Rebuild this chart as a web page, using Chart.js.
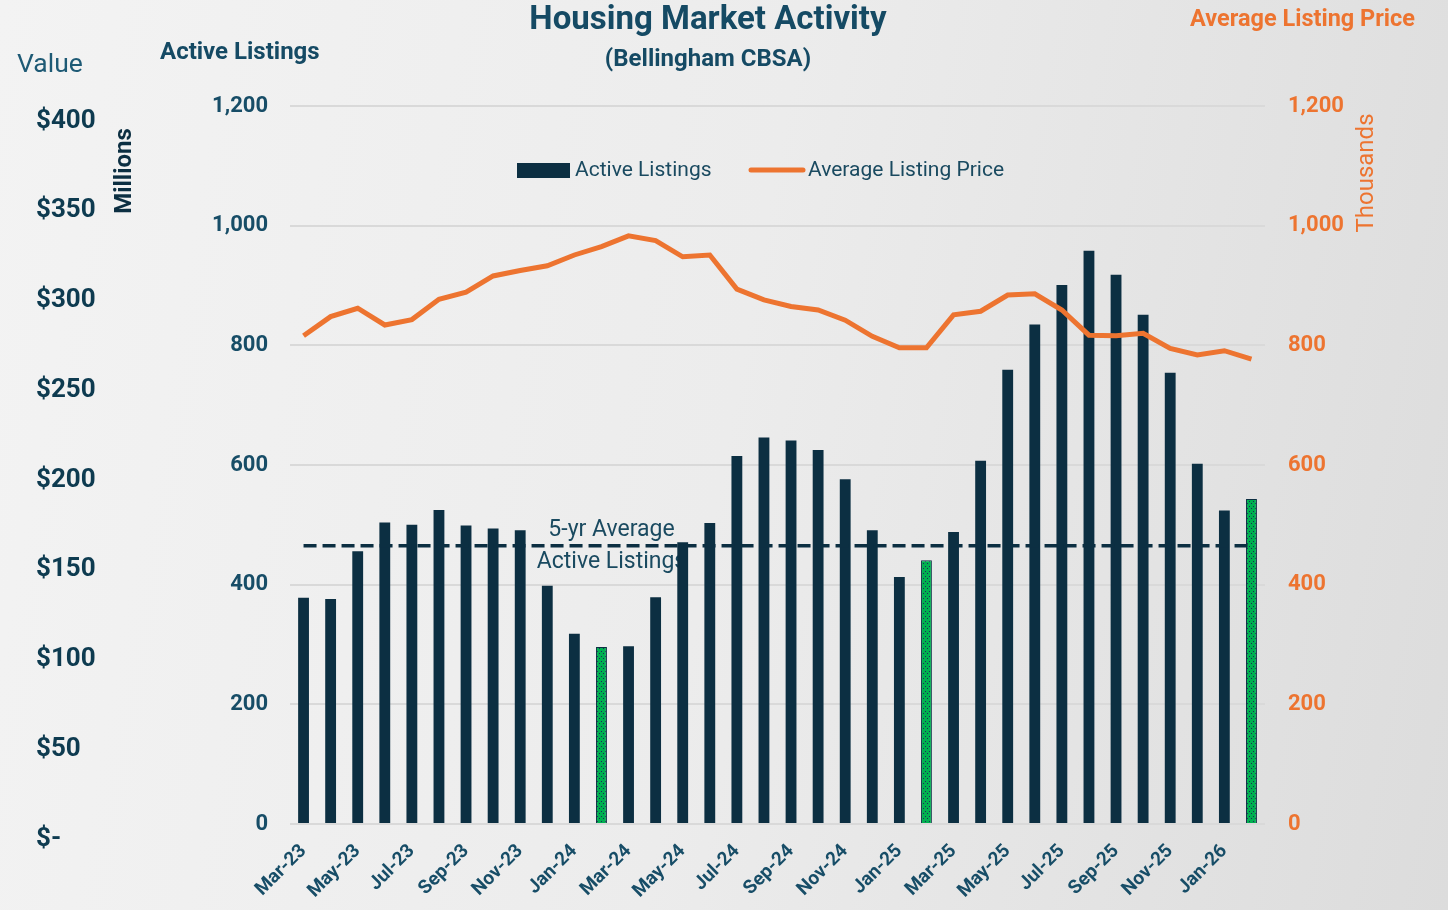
<!DOCTYPE html>
<html>
<head>
<meta charset="utf-8">
<script src="https://cdn.jsdelivr.net/npm/chart.js"></script>
<style>
  html, body { margin: 0; padding: 0; }
  #wrap {
    width: 1448px; height: 910px; position: relative;
    background: linear-gradient(100deg, #f3f3f3 0%, #ececec 50%, #dcdcdc 100%);
  }
</style>
</head>
<body>
<div id="wrap"><canvas id="housing-chart"></canvas></div>
<script>
// monthly categories, Mar-23 .. Feb-26
const months = ["Mar-23","Apr-23","May-23","Jun-23","Jul-23","Aug-23","Sep-23","Oct-23","Nov-23","Dec-23",
  "Jan-24","Feb-24","Mar-24","Apr-24","May-24","Jun-24","Jul-24","Aug-24","Sep-24","Oct-24","Nov-24","Dec-24",
  "Jan-25","Feb-25","Mar-25","Apr-25","May-25","Jun-25","Jul-25","Aug-25","Sep-25","Oct-25","Nov-25","Dec-25",
  "Jan-26","Feb-26"];

const activeListings = [378,376,456,504,500,525,499,494,491,398,318,296,297,379,471,503,615,646,641,625,576,491,
  413,441,488,607,759,835,901,958,918,851,754,602,524,543];

// average listing price, thousands of dollars
const avgListingPrice = [816,848,862,834,843,877,889,916,925,933,951,965,983,975,948,951,894,876,865,859,842,815,
  796,796,851,857,884,886,859,817,816,820,795,784,791,777];

const fiveYearAvgListings = 465;
const highlightMonths = ["Feb-24","Feb-25","Feb-26"];

const listingTicks = [0,200,400,600,800,1000,1200];
const valueTicks = [0,50,100,150,200,250,300,350,400];

const navy = '#0c2f42';
const orange = '#ed7430';
const teal = '#174d67';
const roboto = "Roboto, 'Liberation Sans', sans-serif";

// green dotted fill for the February bars
function dotPattern() {
  const c = document.createElement('canvas');
  c.width = 4; c.height = 5;
  const g = c.getContext('2d');
  g.fillStyle = '#00b050';
  g.fillRect(0, 0, 4, 5);
  g.fillStyle = '#1d2b57';
  g.fillRect(1, 1, 1, 1);
  g.fillRect(3, 3, 1, 1);
  return g.createPattern(c, 'repeat');
}
const green = dotPattern();

const barColors = months.map(m => highlightMonths.includes(m) ? green : navy);
const barBorders = months.map(m => highlightMonths.includes(m) ? 1 : 0);

// titles, legend and the average label
const decorations = {
  id: 'decorations',
  beforeDatasetsDraw(chart) {
    const ctx = chart.ctx;
    const x = chart.scales.x, y = chart.scales.y;
    ctx.save();
    ctx.fillStyle = '#1a4a60';
    ctx.font = "23px " + roboto;
    ctx.textAlign = 'center';
    ctx.textBaseline = 'middle';
    const cx = x.getPixelForValue(11.37);
    const cy = y.getPixelForValue(fiveYearAvgListings);
    ctx.fillText('5-yr Average', cx, cy - 16);
    ctx.fillText('Active Listings', cx, cy + 16);
    ctx.restore();
  },
  afterDraw(chart) {
    const ctx = chart.ctx;
    ctx.save();
    ctx.textBaseline = 'middle';

    ctx.fillStyle = '#154a64';
    ctx.textAlign = 'center';
    ctx.font = "bold 33px " + roboto;
    ctx.fillText('Housing Market Activity', 708, 21);
    ctx.font = "bold 24px " + roboto;
    ctx.fillText('(Bellingham CBSA)', 708, 60);

    ctx.textAlign = 'left';
    ctx.font = "bold 24px " + roboto;
    ctx.fillText('Active Listings', 160, 53);

    ctx.fillStyle = '#1e5a75';
    ctx.font = "26.5px " + roboto;
    ctx.fillText('Value', 17, 65);

    ctx.fillStyle = orange;
    ctx.textAlign = 'right';
    ctx.font = "bold 23.5px " + roboto;
    ctx.fillText('Average Listing Price', 1415, 20);

    // rotated axis units
    ctx.textAlign = 'center';
    ctx.save();
    ctx.translate(125, 171);
    ctx.rotate(-Math.PI / 2);
    ctx.fillStyle = navy;
    ctx.font = "bold 24px " + roboto;
    ctx.fillText('Millions', 0, 0);
    ctx.restore();
    ctx.save();
    ctx.translate(1367, 173);
    ctx.rotate(-Math.PI / 2);
    ctx.fillStyle = orange;
    ctx.font = "24px " + roboto;
    ctx.fillText('Thousands', 0, 0);
    ctx.restore();

    // legend
    ctx.textAlign = 'left';
    ctx.font = "21px " + roboto;
    ctx.fillStyle = navy;
    ctx.fillRect(517, 163, 53, 15);
    ctx.fillStyle = '#1a4a60';
    ctx.fillText(chart.data.datasets[2].label, 575, 171);
    ctx.strokeStyle = orange;
    ctx.lineWidth = 5;
    ctx.lineCap = 'round';
    ctx.beginPath();
    ctx.moveTo(751, 170);
    ctx.lineTo(803, 170);
    ctx.stroke();
    ctx.fillText(chart.data.datasets[0].label, 808, 171);
    ctx.restore();
  }
};

new Chart(document.getElementById('housing-chart'), {
  type: 'bar',
  data: {
    labels: months,
    datasets: [
      {
        type: 'line',
        label: 'Average Listing Price',
        data: avgListingPrice,
        yAxisID: 'y2',
        borderColor: orange,
        borderWidth: 5,
        pointRadius: 0,
        tension: 0,
        order: 0
      },
      {
        type: 'line',
        label: '5-yr Average Active Listings',
        data: months.map(() => fiveYearAvgListings),
        yAxisID: 'y',
        borderColor: navy,
        borderWidth: 3.5,
        borderDash: [13, 6],
        pointRadius: 0,
        order: 1
      },
      {
        label: 'Active Listings',
        data: activeListings,
        yAxisID: 'y',
        backgroundColor: barColors,
        borderColor: navy,
        borderWidth: barBorders,
        categoryPercentage: 1,
        barPercentage: 0.4,
        order: 2
      }
    ]
  },
  options: {
    responsive: true,
    maintainAspectRatio: false,
    animation: false,
    layout: { padding: { top: 106, left: 36, right: 0, bottom: 0 } },
    plugins: {
      legend: { display: false },
      tooltip: { enabled: false }
    },
    scales: {
      x: {
        offset: true,
        grid: { display: false },
        border: { display: false },
        ticks: {
          autoSkip: false,
          maxRotation: 45,
          minRotation: 45,
          padding: 8,
          color: teal,
          font: { family: roboto, size: 19, weight: 'bold' },
          callback: (v, i) => i % 2 === 0 ? months[i] : ''
        },
        afterFit: s => { s.height = 86; }
      },
      y: {
        position: 'left',
        weight: 0,
        min: 0,
        max: 1200,
        afterBuildTicks: s => { s.ticks = listingTicks.map(v => ({ value: v })); },
        grid: { color: '#d9d9d9', lineWidth: 2, drawTicks: false },
        border: { display: false },
        ticks: {
          padding: 22,
          color: teal,
          font: { family: roboto, size: 22, weight: 'bold' },
          callback: v => v.toLocaleString('en-US')
        },
        afterFit: s => { s.width = 134; }
      },
      value: {
        position: 'left',
        weight: 1,
        min: 0,
        max: 400,
        afterBuildTicks: s => { s.ticks = valueTicks.map(v => ({ value: v })); },
        grid: { display: false },
        border: { display: false },
        ticks: {
          crossAlign: 'far',
          labelOffset: 15,
          color: '#0e3b50',
          font: { family: roboto, size: 26, weight: 'bold' },
          callback: v => v === 0 ? '$-' : '$' + v
        },
        afterFit: s => { s.width = 120; }
      },
      y2: {
        position: 'right',
        min: 0,
        max: 1200,
        afterBuildTicks: s => { s.ticks = listingTicks.map(v => ({ value: v })); },
        grid: { display: false, drawTicks: false },
        border: { display: false },
        ticks: {
          padding: 23,
          color: orange,
          font: { family: roboto, size: 22, weight: 'bold' },
          callback: v => v.toLocaleString('en-US')
        },
        afterFit: s => { s.width = 183; }
      }
    }
  },
  plugins: [decorations]
});
</script>
</body>
</html>
